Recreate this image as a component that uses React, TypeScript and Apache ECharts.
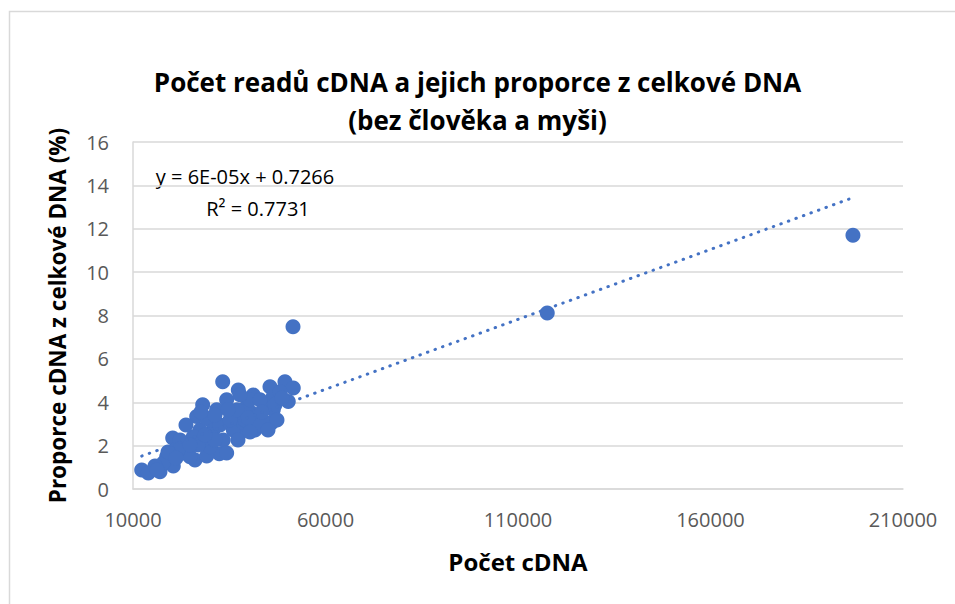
import React, { useEffect, useRef } from "react";
import * as echarts from "echarts";

const cdnaCounts: number[] = [
  33300, 37350, 41240, 45580, 49470, 51630, 50330, 34330, 28100, 26540,
  20310, 26100, 32410, 29140, 17010, 12260, 13970, 20470, 44280, 46020,
  46440, 40830, 37790, 36050, 30850, 30000, 23950, 22990, 31740, 36050,
  39530, 42120, 43840, 30000, 27400, 25660, 22210, 18750, 17870, 24800,
  33450, 38640, 46440, 34330, 15710, 21690, 28180, 32600, 35190, 41680,
  39090, 43000, 28960, 23760, 27660, 37010, 40390, 42980, 48180, 47400,
  31300, 26880, 19090, 37790, 28700, 31300, 34670, 39870, 43500, 46880,
  48700, 37270, 40390, 24800, 21170, 16230, 45060, 51560, 117600, 197000,
];
const cdnaPercent: number[] = [
  4.95, 4.57, 4.34, 4.72, 4.95, 4.66, 4.03, 4.11, 3.88, 3.34,
  2.35, 1.34, 1.62, 1.52, 0.8, 0.88, 0.74, 1.06, 3.05, 3.05,
  3.65, 3.51, 2.58, 2.72, 2.72, 1.95, 1.95, 1.66, 3.65, 3.34,
  3.8, 3.34, 3.97, 3.18, 2.72, 2.41, 2.26, 1.49, 1.2, 1.49,
  2.26, 3.05, 4.26, 1.66, 1.06, 1.8, 2.26, 2.95, 3.18, 2.72,
  3.18, 2.95, 3.28, 2.95, 3.55, 3.65, 4.11, 4.11, 4.48, 3.18,
  2.26, 2.03, 1.71, 4.34, 2.49, 3.41, 3.65, 3.28, 3.55, 3.88,
  4.2, 2.26, 2.63, 2.03, 1.43, 0.88, 2.72, 7.48, 8.12, 11.7,
];
const trendSlope = 6.45e-5;
const trendIntercept = 0.7266;
const trendStartX = 12260;
const trendEndX = 197000;
const xTicks = [10000, 60000, 110000, 160000, 210000];
const yTicks = [0, 2, 4, 6, 8, 10, 12, 14, 16];

export default function App() {
  const ref = useRef<HTMLDivElement>(null);
  useEffect(() => {
    if (!ref.current) return;
    const chart = echarts.init(ref.current, null, { renderer: "svg" });
    const points = cdnaCounts.map((x, i) => [x, cdnaPercent[i]]);
    const trend = [trendStartX, trendEndX].map((x) => [x, trendIntercept + trendSlope * x]);
    const font = "'Open Sans', sans-serif";
    chart.setOption({
      animation: false,
      backgroundColor: "#ffffff",
      textStyle: { fontFamily: font },
      title: {
        text: "Počet readů cDNA a jejich proporce z celkové DNA\n(bez člověka a myši)",
        left: "center",
        top: 58,
        textStyle: {
          fontFamily: font,
          fontSize: 26,
          fontWeight: "bold",
          color: "#000000",
          lineHeight: 38,
        },
      },
      grid: { left: 133, right: 52, top: 142, bottom: 115 },
      xAxis: {
        type: "value",
        min: xTicks[0],
        max: xTicks[xTicks.length - 1],
        interval: 50000,
        name: "Počet cDNA",
        nameLocation: "middle",
        nameGap: 60,
        nameTextStyle: { fontFamily: font, fontSize: 24, fontWeight: "bold", color: "#000" },
        axisLine: { show: true, lineStyle: { color: "#d9d9d9", width: 1.5 } },
        axisTick: { show: false },
        splitLine: { show: false },
        axisLabel: {
          fontSize: 20,
          color: "#595959",
          margin: 20,
          formatter: (v: number) => String(v),
        },
      },
      yAxis: {
        type: "value",
        min: yTicks[0],
        max: yTicks[yTicks.length - 1],
        interval: 2,
        name: "Proporce cDNA z celkové DNA (%)",
        nameLocation: "middle",
        nameGap: 64,
        nameTextStyle: { fontFamily: font, fontSize: 22.5, fontWeight: "bold", color: "#000" },
        axisLine: { show: true, lineStyle: { color: "#d9d9d9", width: 1.5 } },
        axisTick: { show: false },
        splitLine: { show: true, lineStyle: { color: "#d9d9d9", width: 1.5 } },
        axisLabel: { fontSize: 20, color: "#595959", margin: 24 },
      },
      series: [
        {
          type: "line",
          data: trend,
          symbol: "none",
          lineStyle: { color: "#4472c4", width: 3, type: [0.5, 7.5], cap: "round" },
          z: 3,
        },
        {
          type: "scatter",
          data: points,
          symbolSize: 15,
          itemStyle: { color: "#4472c4", opacity: 1 },
          z: 2,
        },
      ],
      graphic: [
        {
          type: "rect",
          shape: { x: 9.5, y: 11.5, width: 960, height: 620 },
          style: { fill: "none", stroke: "#d9d9d9", lineWidth: 1.5 },
          silent: true,
        },
        {
          type: "text",
          x: 245,
          y: 176,
          style: {
            text: "y = 6E-05x + 0.7266",
            font: "20px 'Open Sans', sans-serif",
            fill: "#000",
            align: "center",
            verticalAlign: "middle",
          },
        },
        {
          type: "text",
          x: 258,
          y: 208,
          style: {
            text: "R² = 0.7731",
            font: "20px 'Open Sans', sans-serif",
            fill: "#000",
            align: "center",
            verticalAlign: "middle",
          },
        },
      ],
    });
    return () => chart.dispose();
  }, []);
  return (
    <div
      ref={ref}
      style={{ position: "fixed", left: 0, top: 0, width: 955, height: 604 }}
    />
  );
}
